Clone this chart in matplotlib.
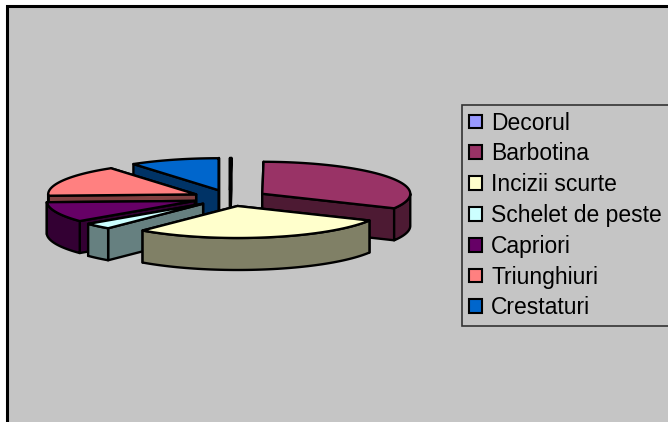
import numpy as np
import matplotlib
matplotlib.use('Agg')
import matplotlib.pyplot as plt
from matplotlib.patches import Polygon, Patch

labels = ['Decorul', 'Barbotina', 'Incizii scurte', 'Schelet de peste',
          'Capriori', 'Triunghiuri', 'Crestaturi']
values = [0.5, 116, 102.5, 11, 36.5, 57, 35]
colors = ['#9999FF', '#993366', '#FFFFCC', '#CCFFFF', '#660066', '#FF8080', '#0066CC']
side_colors = ['#4D4D80', '#4D1A33', '#808066', '#668080', '#330033', '#804040', '#003366']

# drawing order, back slices first
order = [0, 6, 5, 4, 3, 1, 2]

cx, cy = 230, 198
rx, ry = 148, 32
depth = 32
explode = 0.255
bg = '#C5C5C5'

plt.rcParams['font.family'] = ['Liberation Sans', 'DejaVu Sans']

fig = plt.figure(figsize=(6.68, 4.22), dpi=100, facecolor='white')
ax = fig.add_axes([0, 0, 1, 1])
ax.set_xlim(0, 668)
ax.set_ylim(422, 0)
ax.axis('off')

# chart area with only the top and left border showing
ax.add_patch(plt.Rectangle((6.5, 6), 670, 430, fc=bg, ec='black', lw=2.2))

ends = np.cumsum(values) / np.sum(values) * 360
starts = ends - np.array(values) / np.sum(values) * 360


def pt(theta, ox, oy, r=1.0):
    t = np.radians(theta)
    return ox + r * rx * np.sin(t), oy - r * ry * np.cos(t)


for i in order:
    t1, t2 = starts[i], ends[i]
    mid = np.radians((t1 + t2) / 2)
    ox = cx + explode * rx * np.sin(mid)
    oy = cy - explode * ry * np.cos(mid)
    kw = dict(ec='black', lw=1.7, joinstyle='round')

    # cut walls, the one further back first
    edges = sorted([t1, t2], key=lambda a: -np.cos(np.radians(a)))
    for a in edges:
        px, py = pt(a, ox, oy)
        ax.add_patch(Polygon([(ox, oy), (px, py), (px, py + depth), (ox, oy + depth)],
                             fc=side_colors[i], **kw))

    # outer rim, only the part facing the front
    a1, a2 = max(t1, 90), min(t2, 270)
    if a2 > a1:
        th = np.linspace(a1, a2, 60)
        xs, ys = pt(th, ox, oy)
        rim = list(zip(xs, ys)) + list(zip(xs[::-1], ys[::-1] + depth))
        ax.add_patch(Polygon(rim, fc=side_colors[i], **kw))

    # top face
    th = np.linspace(t1, t2, 60)
    xs, ys = pt(th, ox, oy)
    ax.add_patch(Polygon([(ox, oy)] + list(zip(xs, ys)), fc=colors[i], **kw))

handles = [Patch(fc=c, ec='black', lw=1.5) for c in colors]
leg = ax.legend(handles, labels, loc='upper left', bbox_to_anchor=(462 / 668, 1 - 105 / 422),
                fontsize=16.5, frameon=True, fancybox=False, framealpha=1,
                facecolor=bg, edgecolor='#333333', handlelength=0.58, handleheight=0.55,
                handletextpad=0.4, labelspacing=0.34, borderpad=0.29, borderaxespad=0)
leg.get_frame().set_linewidth(1.2)

fig.savefig('out.png', dpi=100, facecolor='white')
